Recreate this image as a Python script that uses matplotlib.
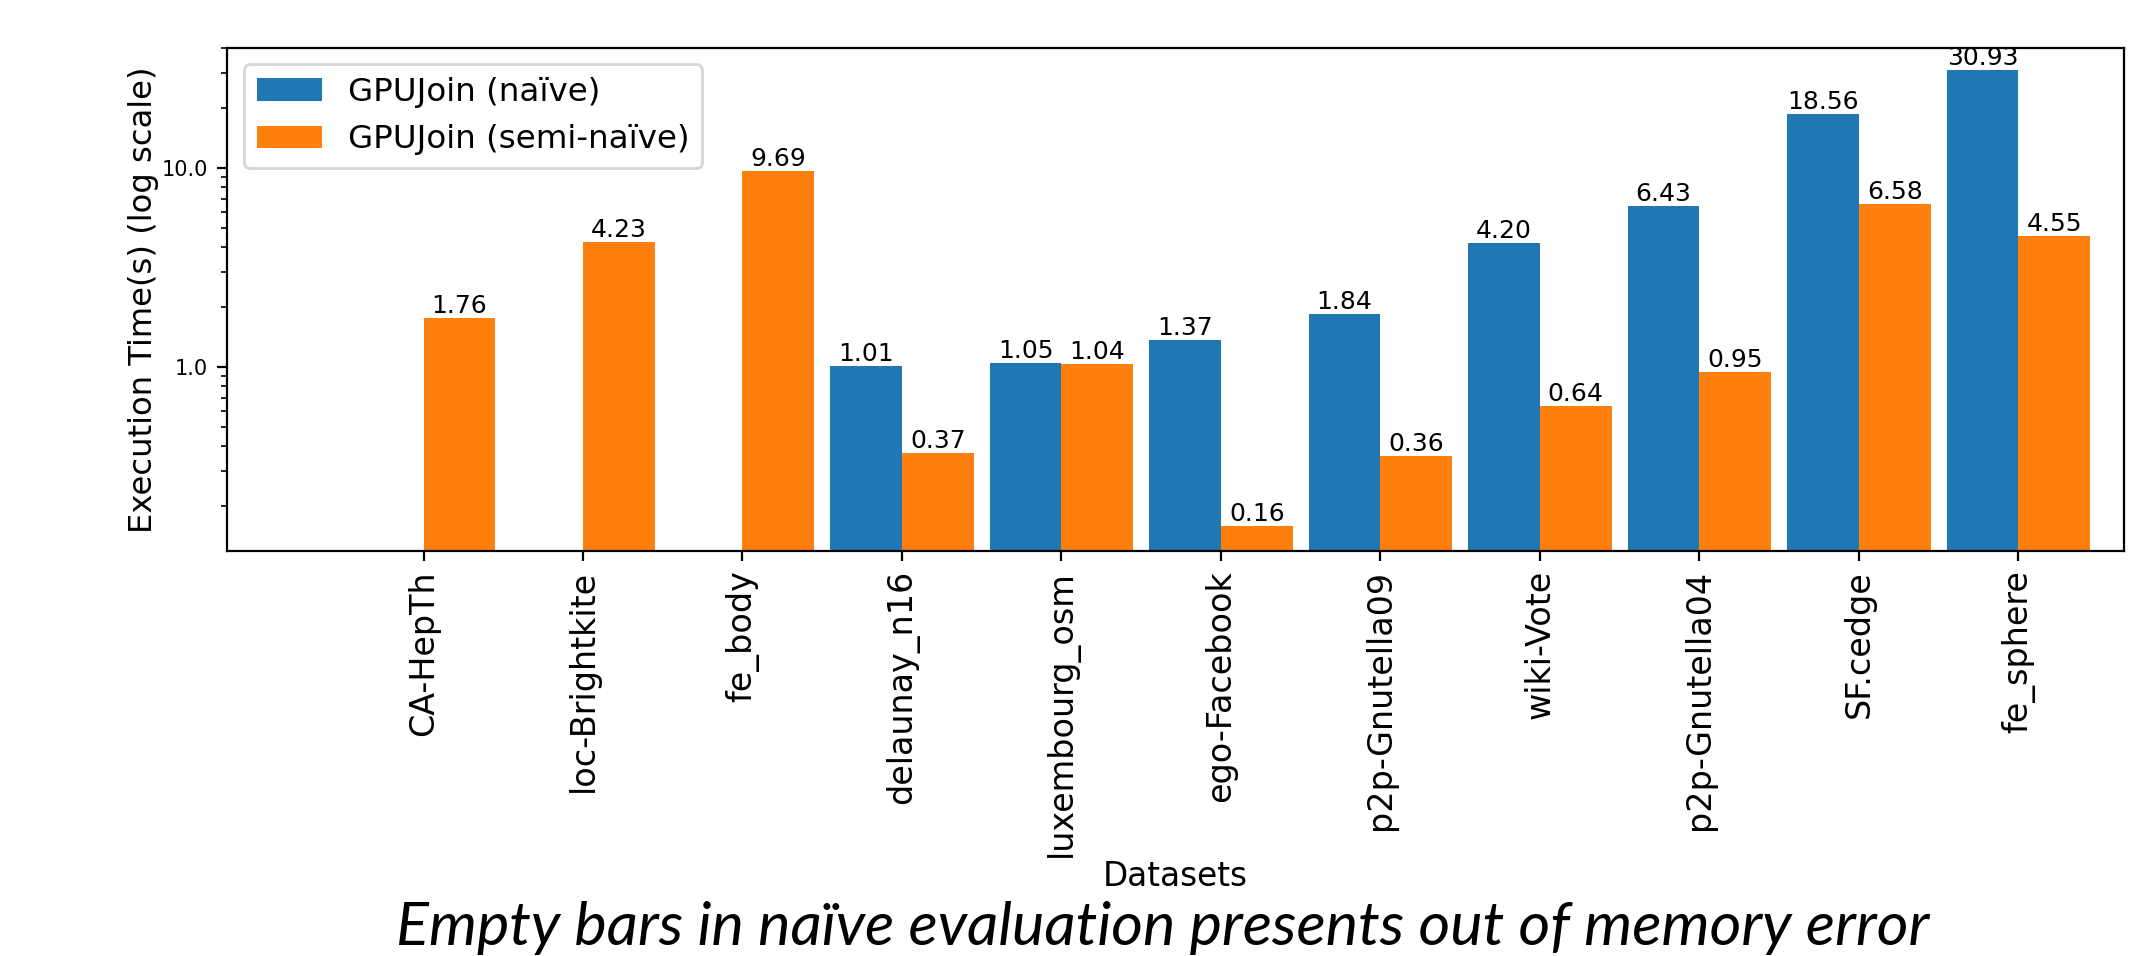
import numpy as np
import matplotlib.pyplot as plt

# data (naive is missing where it ran out of memory)
datasets = ['CA-HepTh', 'loc-Brightkite', 'fe_body', 'delaunay_n16', 'luxembourg_osm',
            'ego-Facebook', 'p2p-Gnutella09', 'wiki-Vote', 'p2p-Gnutella04', 'SF.cedge', 'fe_sphere']
naive = [np.nan, np.nan, np.nan, 1.01, 1.05, 1.37, 1.84, 4.20, 6.43, 18.56, 30.93]
semi_naive = [1.76, 4.23, 9.69, 0.37, 1.04, 0.16, 0.36, 0.64, 0.95, 6.58, 4.55]

x = np.arange(len(datasets))
w = 0.45

fig = plt.figure(figsize=(10.725, 4.78), dpi=200)
ax = fig.add_axes([0.106, 0.424, 0.884, 0.526])

b1 = ax.bar(x - w/2, naive, w, label='GPUJoin (naïve)', color='#1f77b4')
b2 = ax.bar(x + w/2, semi_naive, w, label='GPUJoin (semi-naïve)', color='#ff7f0e')

for bars, vals in [(b1, naive), (b2, semi_naive)]:
    for rect, v in zip(bars, vals):
        if np.isnan(v):
            continue
        ax.text(rect.get_x() + rect.get_width()/2, v, '%.2f' % v,
                ha='center', va='bottom', fontsize=9)

ax.set_yscale('log')
ax.set_ylim(0.12, 40)
ax.set_xlim(-1.23, 10.66)
ax.set_yticks([1.0, 10.0])
ax.set_yticklabels(['1.0', '10.0'], fontsize=7.5)
ax.set_xticks(x)
ax.set_xticklabels(datasets, rotation=90, fontsize=12)
ax.set_ylabel('Execution Time(s) (log scale)', fontsize=11.6, labelpad=1)
ax.set_xlabel('Datasets', fontsize=11.8, labelpad=1)
ax.legend(loc='upper left', fontsize=11.7)

fig.text(0.542, 0.0115, 'Empty bars in naïve evaluation presents out of memory error',
         ha='center', va='baseline', fontsize=22, style='italic', family='Lato')

fig.savefig('out.png', dpi=200)
